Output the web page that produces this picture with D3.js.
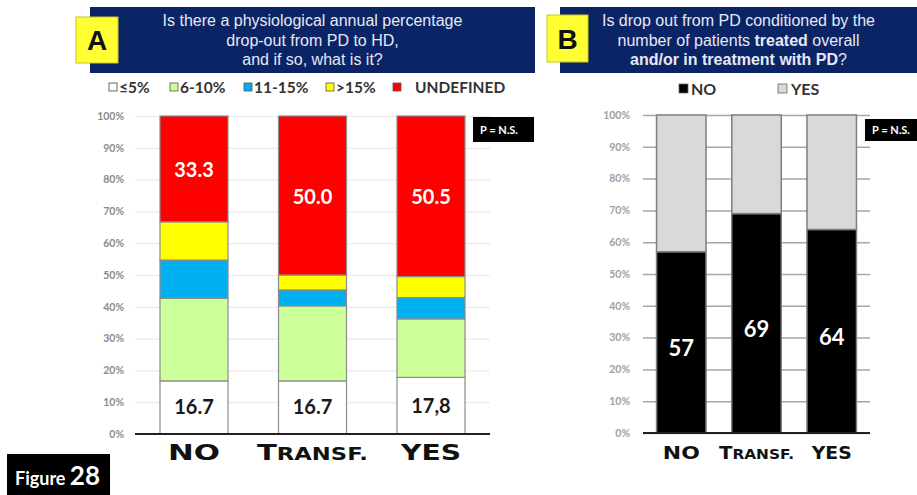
<!DOCTYPE html>
<html>
<head>
<meta charset="utf-8">
<script src="https://cdn.jsdelivr.net/npm/d3@7/dist/d3.min.js"></script>
<style>
  html, body { margin: 0; padding: 0; background: #fff; }
  svg { display: block; }
</style>
</head>
<body>
<svg id="fig" width="917" height="495"></svg>
<script>
// ---- Panel A: annual drop-out classes by group (percent of centres) ----
const groupsA = ["NO", "TRANSF.", "YES"];
const classesA = ["≤5%", "6-10%", "11-15%", ">15%", "UNDEFINED"];
const colorsA = ["#ffffff", "#ccff99", "#00b0f0", "#ffff00", "#ff0000"];
const le5 = [16.7, 16.7, 17.8];
const p6to10 = [26.0, 23.6, 18.4];
const p11to15 = [12.0, 5.0, 6.7];
const gt15 = [12.0, 4.7, 6.6];
const undefinedPct = [33.3, 50.0, 50.5];
const labelsLowA = ["16.7", "16.7", "17,8"];
const labelsTopA = ["33.3", "50.0", "50.5"];

// ---- Panel B: drop-out conditioned by number of patients ----
const groupsB = ["NO", "TRANSF.", "YES"];
const answersB = ["NO", "YES"];
const colorsB = ["#000000", "#d9d9d9"];
const noPct = [57, 69, 64];
const yesPct = [43, 31, 36];

const pctTicks = [0, 10, 20, 30, 40, 50, 60, 70, 80, 90, 100];

const svg = d3.select("#fig");

// ---------- shared helpers ----------
function header(x, y, w, h, lines, badge, bx, by, bw, bh) {
  svg.append("rect").attr("x", x).attr("y", y).attr("width", w).attr("height", h)
    .attr("fill", "#0b2466");
  const t = svg.append("text").attr("text-anchor", "middle")
    .attr("font-family", "Liberation Sans, Arial, sans-serif")
    .attr("font-size", 16).attr("fill", "#e6e8f2");
  lines.forEach((ln, i) => {
    const tl = t.append("tspan").attr("x", x + w / 2).attr("y", y + 19 + i * 19.5);
    ln.forEach(part => {
      tl.append("tspan").attr("font-weight", part.b ? "bold" : "normal").text(part.t);
    });
  });
  const g = svg.append("g");
  g.append("rect").attr("x", bx).attr("y", by).attr("width", bw).attr("height", bh)
    .attr("fill", "#ffff33").attr("stroke", "#c8c820").attr("stroke-width", 1);
  g.append("text").attr("x", bx + bw / 2).attr("y", by + bh / 2 + 10)
    .attr("text-anchor", "middle").attr("font-family", "Liberation Sans, Arial, sans-serif")
    .attr("font-weight", "bold").attr("font-size", 28).attr("fill", "#111").text(badge);
}

function catLabel(x, y, name, size, widths, i) {
  const t = svg.append("text").attr("x", x).attr("y", y).attr("text-anchor", "middle")
    .attr("font-family", "DejaVu Sans, sans-serif").attr("font-weight", "bold")
    .attr("font-size", size).attr("fill", "#111")
    .attr("textLength", widths[i]).attr("lengthAdjust", "spacingAndGlyphs");
  if (name === "TRANSF.") {
    t.append("tspan").text("T");
    t.append("tspan").attr("font-size", size * 0.78).text("RANSF.");
  } else {
    t.text(name);
  }
}

function pBox(x, y, w, h) {
  svg.append("rect").attr("x", x).attr("y", y).attr("width", w).attr("height", h).attr("fill", "#000");
  svg.append("text").attr("x", x + 7).attr("y", y + h / 2 + 4)
    .attr("font-family", "Lato, sans-serif").attr("font-weight", "bold")
    .attr("font-size", 11).attr("fill", "#fff").text("P = N.S.");
}

// ================= PANEL A =================
header(90, 7, 445, 66,
  [[{t: "Is there a physiological annual percentage"}],
   [{t: "drop-out from PD to HD,"}],
   [{t: "and if so, what is it?"}]],
  "A", 76, 17, 42, 46);

// legend A
const legA = [
  {x: 109, tx: 119}, {x: 170, tx: 180}, {x: 244, tx: 254}, {x: 326, tx: 336}, {x: 393, tx: 415}
];
classesA.forEach((c, i) => {
  svg.append("rect").attr("x", legA[i].x).attr("y", 83).attr("width", 8).attr("height", 8)
    .attr("fill", colorsA[i]).attr("stroke", i === 0 ? "#444" : "#555").attr("stroke-width", 0.8);
  svg.append("text").attr("x", legA[i].tx).attr("y", 93)
    .attr("font-family", "Lato, sans-serif").attr("font-weight", "bold")
    .attr("font-size", 15.5).attr("fill", "#333").text(c);
});

const yA = d3.scaleLinear().domain([0, 100]).range([434, 116]);
const xA = d3.scaleBand().domain(groupsA).range([135, 490]).paddingInner(0.426).paddingOuter(0.211);

const gA = svg.append("g");
// y axis (labels + light gridlines)
gA.append("g").attr("transform", "translate(135,0)")
  .call(d3.axisLeft(yA).tickValues(pctTicks).tickFormat(d => d + "%").tickSize(-355).tickPadding(11))
  .call(g => g.select(".domain").remove())
  .call(g => g.selectAll(".tick line").attr("stroke", "#ebebeb").attr("stroke-width", 1.2))
  .call(g => g.selectAll(".tick text").attr("font-family", "Lato, sans-serif").attr("font-weight", "bold")
    .attr("font-size", 10.5).attr("fill", "#8a8a8a"));

const tableA = groupsA.map((g, i) => ({g, vals: [le5[i], p6to10[i], p11to15[i], gt15[i], undefinedPct[i]]}));
const stackA = d3.stack().keys(d3.range(classesA.length)).value((d, k) => d.vals[k])(tableA);

stackA.forEach((layer, k) => {
  gA.selectAll(null).data(layer).enter().append("rect")
    .attr("x", d => xA(d.data.g))
    .attr("width", xA.bandwidth())
    .attr("y", d => yA(d[1]))
    .attr("height", d => yA(d[0]) - yA(d[1]))
    .attr("fill", colorsA[k])
    .attr("stroke", "#8c8c8c").attr("stroke-width", 1.2);
});

// baseline
gA.append("line").attr("x1", 135).attr("x2", 490).attr("y1", yA(0)).attr("y2", yA(0))
  .attr("stroke", "#222").attr("stroke-width", 2);

// value labels A
stackA[0].forEach((d, i) => {
  gA.append("text").attr("x", xA(d.data.g) + xA.bandwidth() / 2)
    .attr("y", yA((d[0] + d[1]) / 2) + 7).attr("text-anchor", "middle")
    .attr("font-family", "Lato, sans-serif").attr("font-weight", "bold").attr("font-size", 20)
    .attr("fill", "#1a1a1a").text(labelsLowA[i]);
});
stackA[4].forEach((d, i) => {
  gA.append("text").attr("x", xA(d.data.g) + xA.bandwidth() / 2)
    .attr("y", yA((d[0] + d[1]) / 2) + 8).attr("text-anchor", "middle")
    .attr("font-family", "Lato, sans-serif").attr("font-weight", "bold").attr("font-size", 20)
    .attr("fill", "#ffffff").text(labelsTopA[i]);
});

pBox(473, 117, 61, 25);

const widthsA = [52, 111, 60];
groupsA.forEach((g, i) => catLabel(xA(g) + xA.bandwidth() / 2, 460, g, 22, widthsA, i));

// ================= PANEL B =================
header(560, 7, 357, 66,
  [[{t: "Is drop out from PD conditioned by the"}],
   [{t: "number of patients "}, {t: "treated", b: true}, {t: " overall"}],
   [{t: "and/or in treatment with PD", b: true}, {t: "?"}]],
  "B", 547, 15, 41, 47);

// legend B
const legB = [{x: 679, tx: 691}, {x: 778, tx: 791}];
answersB.forEach((a, i) => {
  svg.append("rect").attr("x", legB[i].x).attr("y", 84).attr("width", 9).attr("height", 9)
    .attr("fill", colorsB[i]).attr("stroke", "#666").attr("stroke-width", 0.8);
  svg.append("text").attr("x", legB[i].tx).attr("y", 94.5)
    .attr("font-family", "Lato, sans-serif").attr("font-weight", "bold")
    .attr("font-size", 16).attr("fill", "#333").text(a);
});

const yB = d3.scaleLinear().domain([0, 100]).range([433, 115]);
const xB = d3.scaleBand().domain(groupsB).range([643, 870]).paddingInner(0.342).paddingOuter(0.18);

const gB = svg.append("g");
gB.append("g").attr("transform", "translate(643,0)")
  .call(d3.axisLeft(yB).tickValues(pctTicks).tickFormat(d => d + "%").tickSize(-227).tickPadding(13))
  .call(g => g.select(".domain").remove())
  .call(g => g.selectAll(".tick line").attr("stroke", "#a6a6a6").attr("stroke-width", 1.5))
  .call(g => g.selectAll(".tick text").attr("font-family", "Lato, sans-serif").attr("font-weight", "bold")
    .attr("font-size", 10.5).attr("fill", "#a0a0a0"));

const tableB = groupsB.map((g, i) => ({g, vals: [noPct[i], yesPct[i]]}));
const stackB = d3.stack().keys([0, 1]).value((d, k) => d.vals[k])(tableB);

stackB.forEach((layer, k) => {
  gB.selectAll(null).data(layer).enter().append("rect")
    .attr("x", d => xB(d.data.g))
    .attr("width", xB.bandwidth())
    .attr("y", d => yB(d[1]))
    .attr("height", d => yB(d[0]) - yB(d[1]))
    .attr("fill", colorsB[k])
    .attr("stroke", "#7f7f7f").attr("stroke-width", 1.5);
});

gB.append("line").attr("x1", 643).attr("x2", 870).attr("y1", yB(0)).attr("y2", yB(0))
  .attr("stroke", "#222").attr("stroke-width", 2);

stackB[0].forEach((d, i) => {
  gB.append("text").attr("x", xB(d.data.g) + xB.bandwidth() / 2)
    .attr("y", yB(d[1] / 2) + 14).attr("text-anchor", "middle")
    .attr("font-family", "Lato, sans-serif").attr("font-weight", "bold").attr("font-size", 22)
    .attr("fill", "#ffffff").text(noPct[i]);
});

pBox(865, 119, 60, 22);

const widthsB = [37, 75, 40];
groupsB.forEach((g, i) => catLabel(xB(g) + xB.bandwidth() / 2, 459, g, 18, widthsB, i));

// ---- figure tag ----
svg.append("rect").attr("x", 7).attr("y", 454).attr("width", 103).attr("height", 41).attr("fill", "#000");
const ft = svg.append("text").attr("x", 15).attr("y", 485).attr("font-family", "Lato, sans-serif")
  .attr("font-weight", "bold").attr("fill", "#fff");
ft.append("tspan").attr("font-size", 18).text("Figure ");
ft.append("tspan").attr("font-size", 26).text("28");
</script>
</body>
</html>
